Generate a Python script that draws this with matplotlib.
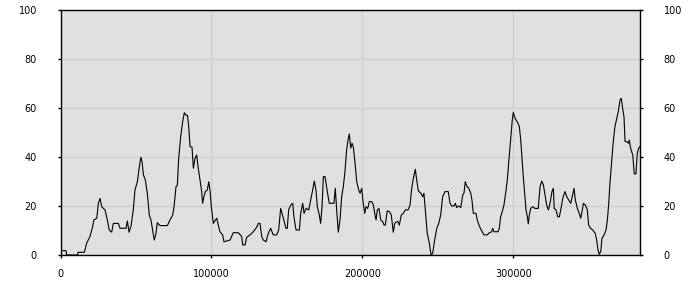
import matplotlib
matplotlib.use('Agg')
import matplotlib.pyplot as plt

# valores (posição, valor)
pos = [800, 3600, 4100, 11400, 11600, 15800, 17300, 19500, 21300, 22100,
       24000, 25100, 26200, 27300, 29500, 31000, 32300, 33900, 35000, 38300,
       39400, 43400, 44300, 45400, 46700, 48200, 49300, 50900, 52200, 53200,
       54000, 54900, 56200, 57500, 58800, 59900, 61000, 62100, 63200, 64100,
       65900, 70800, 72500, 74300, 75200, 76500, 77400, 78200, 79600, 80900,
       82000, 83200, 84100, 84900, 85800, 87100, 88000, 89100, 90200, 91100,
       92400, 93500, 94100, 95000, 95900, 97200, 98200, 99100, 99900,
       101200, 102300, 103500, 104500, 105600, 107400, 108300, 112300, 114400, 117800,
       120000, 120700, 122200, 123300, 125500, 127700, 129900, 131000, 132100, 133300,
       134300, 136100, 137600, 139200, 140900, 143200, 144500, 145800, 147600, 149300,
       150200, 151100, 152500, 153800, 154600, 156000, 158200, 159100, 160400, 161300,
       162600, 164400, 165700, 167000, 168100, 169200, 170100, 171400, 172300, 173200,
       174100, 175200, 176700, 178000, 181100, 182000, 182900, 184000, 185100, 186200,
       187300, 188400, 189500, 190600, 191300, 192200, 193100, 193900, 195000, 196200,
       197500, 198400, 199500, 200500, 201500, 202300, 203500, 204500, 206100, 207200,
       208300, 209000, 209800, 210900, 212100, 213400, 214300, 215100, 216400, 217800,
       219100, 220400, 221300, 222700, 223500, 224400, 225700, 227000, 228400, 230200,
       231500, 232600, 233700, 235000, 235900, 237000, 238600, 239900, 240700, 241600,
       242900, 244300, 245400, 246500, 247800, 249200, 250500, 251800, 253100, 254700,
       256800, 258000, 259100, 260600, 261500, 262400, 263700, 265100, 266400, 267200,
       268100, 269000, 270400, 271700, 272500, 273400, 275200, 276000, 277400, 278900,
       280500, 282700, 284000, 285600, 286200, 287100, 289800, 290600, 291500, 292900,
       293700, 295100, 295900, 296800, 297700, 298600, 299200, 299900, 301000, 302500,
       303900, 304800, 305700, 306500, 307400, 308300, 309200, 309800, 310500, 311400,
       312700, 314300, 316400, 317600, 318700, 319800, 320900, 322000, 323100, 324200,
       325500, 326400, 327000, 328200, 329300, 330400, 331500, 332600, 334100, 335300,
       336600, 337900, 339200, 340100, 341000, 342300, 343600, 344500, 345400, 346300,
       347600, 348900, 349800, 351100, 352500, 354200, 355100, 356000, 356800, 357800,
       358600, 360000, 361300, 362200, 363100, 363900, 365100, 366100, 367200, 368400,
       369400, 370600, 371400, 372300, 373200, 373900, 375000, 376100, 376700, 377600,
       379000, 380000, 381100, 382000, 382900, 383600]
valores = [1.8, 1.8, 0, 0, 1.1, 1.1, 4.8, 7.5, 11.6, 14.3,
           15, 21.2, 23.1, 19.7, 18.4, 14.3, 10.2, 9.3, 12.9, 12.9,
           10.9, 10.9, 13.9, 9.3, 11.8, 18.4, 26.5, 29.9, 36, 39.9,
           38, 32.7, 30.6, 25.2, 16.3, 14.3, 10.2, 6.1, 8.6, 13.2,
           12, 12, 14.3, 16.3, 19.7, 27.9, 28.5, 38.8, 48.3, 54.4,
           58.1, 57, 57, 52.4, 44.2, 44, 35.4, 39.5, 40.8, 36.1,
           30.6, 25.9, 21.1, 23.8, 25.9, 26.5, 29.9, 25.9, 19.7,
           12.9, 14, 15, 12.2, 9.5, 8.2, 5.4, 6.1, 9.1, 9.1,
           7.5, 4.1, 4.1, 7.2, 8.2, 9.5, 11.3, 12.9, 12.9, 7.5,
           6.1, 5.4, 8.8, 10.9, 8.2, 8.2, 10.2, 19, 15, 10.9,
           10.9, 18.4, 20.4, 21.1, 15.6, 10.2, 10.2, 17, 21.1, 17,
           19, 18.4, 22.4, 26.5, 30.2, 26.5, 19.7, 16.3, 12.9, 19.7,
           32, 32, 25.9, 21.1, 21.1, 27.2, 18.4, 9.3, 14.3, 23.8,
           27.9, 34, 42.9, 47.6, 49.4, 43.6, 45.6, 44.2, 38, 29.9,
           26.5, 25.2, 27.2, 21.1, 17, 19.7, 19, 21.8, 21.8, 20.4,
           16.3, 14.3, 18.4, 19, 14.3, 13.6, 12.2, 12.2, 18, 17.7,
           16.3, 9.3, 12.9, 13.6, 13.6, 12.2, 16.3, 17, 18.4, 18.4,
           20.4, 27.2, 31.3, 35, 30.6, 26.2, 25.2, 23.8, 25.2, 18.4,
           8.8, 4.8, 0, 0.7, 6.1, 10.9, 12.9, 16.3, 23.8, 25.9,
           25.9, 21.1, 20, 20, 21.1, 19.4, 20, 19.4, 24.5, 25.2,
           29.9, 28.2, 27.2, 25.2, 22.4, 17, 17, 14.3, 11.8, 9.9,
           8.2, 8.2, 9.1, 9.5, 10.9, 9.5, 9.5, 10.9, 15.6, 18.4,
           20.4, 26.5, 30.6, 37.4, 44.2, 51, 55.1, 58.2, 55.8, 54.4,
           52.4, 46.9, 38.8, 32, 25.2, 18.4, 15.6, 12.7, 16.3, 19,
           19.7, 19, 19, 27.9, 30.2, 28.6, 24.5, 20.4, 18.4, 21.1,
           25.9, 27.2, 19, 18.4, 15.6, 15.6, 19, 23.1, 25.9, 23.8,
           22.4, 21.1, 24.5, 27.2, 22.4, 19, 17, 15, 17.7, 21.1,
           20.4, 18.4, 12.2, 10.9, 10.2, 8.8, 6.1, 2, 0.3, 1.4,
           6.8, 8.2, 10.2, 14.3, 21.1, 29.3, 38.8, 46.3, 52.4, 55.8,
           58.5, 63.3, 64, 59.9, 56.4, 46.3, 46.3, 45.6, 46.9, 43.5,
           40.8, 33.1, 33.1, 41.5, 43.5, 44.2]

xticks = [0, 100000, 200000, 300000]
yticks = [0, 20, 40, 60, 80, 100]

fig = plt.figure(figsize=(7, 3), dpi=100)
ax = fig.add_axes([60.5 / 700, 45 / 300, 579.5 / 700, 245 / 300])
ax.set_facecolor('#e0e0e0')
ax.plot(pos, valores, color='black', linewidth=0.8)

ax.set_xlim(0, 383800)
ax.set_ylim(0, 100)
ax.set_xticks(xticks)
ax.set_xticklabels([str(t) for t in xticks])
ax.set_yticks(yticks)
ax.set_yticklabels([str(t) for t in yticks])
ax.grid(True, color='#cfcfcf', linewidth=1)
ax.set_axisbelow(True)

ax.tick_params(axis='x', length=2, pad=8, labelsize=7, width=1)
ax.tick_params(axis='y', length=2, pad=15, labelsize=7, width=1,
               right=True, labelright=True)
for s in ax.spines.values():
    s.set_color('black')
    s.set_linewidth(1)

fig.savefig('out.png', dpi=100)
